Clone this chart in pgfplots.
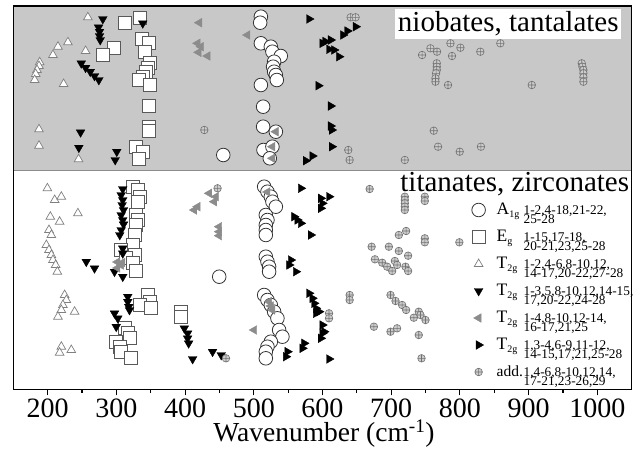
\documentclass[border=0pt]{standalone}
\usepackage{fontspec}
\setmainfont{Liberation Serif}
\usepackage{pgfplots}
\pgfplotsset{compat=1.18}
\definecolor{bggray}{RGB}{200,200,200}
\newcommand{\lent}[5][17.5]{\makebox[27pt][l]{\fontsize{#1}{18}\selectfont #2\raisebox{-3pt}{\fontsize{10}{10}\selectfont #3}}{\fontsize{13.3}{9.5}\selectfont\vtop{\baselineskip=9.5pt\lineskiplimit=-20pt\lineskip=0pt\hbox{#4}\hbox{#5}}}}
\begin{document}
\begin{tikzpicture}
\begin{axis}[
  scale only axis, width=618.4pt, height=383.3pt,
  xmin=150, xmax=1050, ymin=61.7, ymax=445,
  axis on top, clip=false,
  axis line style={line width=1.2pt},
  xtick={200,300,...,1000}, minor x tick num=1,
  xtick pos=bottom, ytick=\empty,
  tick align=outside, major tick length=6pt, minor tick length=3.5pt,
  tick style={line width=1.1pt, black},
  tick label style={font=\fontsize{28}{30}\selectfont},
  /pgf/number format/assume math mode=true,
  /pgf/number format/1000 sep={},
  xlabel={Wavenumber (cm\textsuperscript{-1})},
  xlabel style={font=\fontsize{27.5}{30}\selectfont, at={(axis description cs:0.5024,-0.1367)}, anchor=base},
  legend cell align=left,
  legend style={draw=none, fill=none, inner sep=0pt, outer sep=0pt,
    at={(axis cs:815.6,249.7)}, anchor=north west, row sep=4.0pt, column sep=10pt,
    nodes={inner sep=0pt, text height=12pt, text depth=10pt}},
  legend image code/.code={\path[draw=none, fill=none] (0pt,-10pt) rectangle (16pt,12pt); \draw[#1] plot coordinates {(8pt,3.3pt)};},
]
\fill[bggray] (axis cs:150,280) rectangle (axis cs:1050,445);
\draw[black!45, line width=1.5pt] (axis cs:150,280.5) -- (axis cs:1050,280.5);

% A1g circles
\addplot[only marks, mark=*, mark size=6.8pt, mark options={fill=white, draw=black!80, line width=0.8pt}] coordinates {
(510.3,434.3)(509.3,428.3)(510.3,407.7)(524.8,404.3)(527.1,399.3)(539.3,395)(529.6,389.3)(528.1,384.3)(529.6,379.3)(532.1,376)(533.5,371)(510.3,366)(513.6,344.3)(513.6,324.3)(532.1,319.3)(514.1,301)(527.1,304.3)(523.3,292.7)(455.6,296)
(515.1,264.3)(519.9,259.3)(524.8,254.3)(527.1,249.3)(532.1,244.3)(517.5,236)(519.9,231)(517.5,226)(517.5,221)(517.5,216)(517.5,194.3)(519.9,189.3)(522.3,184.3)(522.3,179.3)(449.7,174.3)(515.1,156)(519.9,151)(524.8,146)(529.6,139.3)(534.4,132.7)(536.9,121)(541.7,114.3)(524.8,109.3)(519.9,104.3)(517.5,99.3)(517.5,92.7)
};
\addlegendentry{\lent{A}{1g}{1-2,4-18,21-22,}{25-28}}

% Eg squares
\addplot[only marks, mark=square*, mark size=6.5pt, mark options={fill=white, draw=black!65, line width=0.8pt}] coordinates {
(312.8,428.3)(334.6,432.7)(296.3,403.3)(280.3,396)(337.5,411.7)(346.7,408.3)(341.9,399.3)(348.1,387.7)(345.6,382.7)(343.3,379.3)(338.4,374.3)(332.6,371)(349.1,366)(347.1,345)(346.7,324.3)(346.7,320.3)(328.8,304.3)(338.4,299.3)(332.6,291.7)
(323.9,264.3)(331.1,261)(333.6,254.3)(331.1,249.3)(328.8,236)(331.1,231)(328.8,226)(326.3,216)(323.9,206)(307.0,201)(326.3,196)(314.3,192.7)(323.9,187.7)(328.8,180)(345.6,156)(348.1,149.3)(333.6,146)(350.6,142.7)(394.1,139.3)(394.1,134.3)(311.8,122.7)(316.6,117.7)(319.1,112.7)(299.8,109.3)(304.5,104.3)(307.0,99.3)(321.5,92.7)
};
\addlegendentry{\lent{E}{g}{1-15,17-18,}{20-21,23,25-28}}

% T2g open triangles
\addplot[only marks, mark=triangle*, mark size=5pt, mark options={fill=white, draw=black!50, line width=0.7pt}] coordinates {
(258.5,433.7)(229.5,408.7)(215.0,404.3)(207.7,396)(255.2,400)(188.4,388.7)(187.4,385)(184.5,381)(182.6,377)(181.1,371)(223.2,367)(187.4,321.7)(187.4,305.3)(245.0,291.7)
(199.6,262.7)(210.2,251)(219.9,254.3)(244.0,237.7)(203.9,234.3)(217.4,229.3)(201.9,221)(205.4,216)(198.1,206)(201.9,201)(205.4,196)(207.7,191)(211.6,186)(214.1,179.3)(224.7,156)(227.2,151)(222.2,146)(219.9,141)(215.0,134.3)(239.2,139.3)(219.9,104.3)(217.4,98.3)(234.4,101)
};
\addlegendentry{\lent{T}{2g}{1-2,4-6,8-10,12,}{14-17,20-22,27-28}}

% T2g black down triangles
\addplot[only marks, mark=triangle*, mark size=5pt, mark options={fill=black, draw=black, rotate=180}] coordinates {
(280.3,432)(274.1,423.7)(275.5,419.3)(275.5,415)(276.5,411)(338.4,427.7)(248.9,387.7)(255.2,383.3)(262.0,379.3)(268.2,375)(274.5,371)(247.9,318.7)(245.4,303.3)(300.6,299.3)(298.3,291)
(309.3,262)(307.0,256)(309.3,251)(308.4,246)(310.4,241)(307.0,236)(309.3,231)(310.4,226.7)(307.0,221)(305.0,216)(309.3,202.7)(309.3,197.7)(256.2,189.3)(268.2,182.7)(297.3,179.3)(309.3,174.3)(316.6,154.3)(316.6,149.3)(318.0,144.3)(319.1,141)(297.3,137.7)(302.1,132.7)(299.8,124.3)(398.9,122.7)(403.7,117.7)(403.7,112.7)(405.2,107.7)(440.0,99.3)(452.6,96)(411.0,92)
};
\addlegendentry{\lent{T}{2g}{1-3,5,8-10,12,14-15,}{17,20-22,24-28}}

% T2g gray left triangles
\addplot[only marks, mark=triangle*, mark size=5pt, mark options={fill=black!45, draw=black!45, rotate=90}] coordinates {
(420.7,428.3)(490.8,416)(418.2,407.7)(423.2,404.3)(419.7,398.7)(432.8,395)(532.1,319.3)(527.1,304.3)(527.1,292.7)
(435.2,257.7)(444.9,254.3)(442.5,249.3)(418.2,244.3)(413.4,241)(449.7,224.3)(449.7,219.3)(449.7,215.3)(301.6,189)(307.0,186)(301.6,183)(308.9,188.5)(500.6,121)(522.3,149.3)(524.8,145)(527.1,141)(519.9,259)
};
\addlegendentry{\lent{T}{2g}{1-4,8-10,12-14,}{16-17,21,25}}

% T2g black right triangles
\addplot[only marks, mark=triangle*, mark size=5pt, mark options={fill=black, draw=black, rotate=-90}] coordinates {
(580.4,432)(599.7,407.7)(604.0,409.5)(611.9,411)(593.9,365.3)(611.9,345)(611.9,325)(613.4,321)(613.4,304.3)(575.6,290.3)(585.2,295)(648.2,424.3)(636.0,420)(629.8,416)(609.5,401.7)(616.7,401)(624.0,394.3)
(568.4,262.7)(597.4,252.7)(599.7,247.7)(597.4,242.7)(609.5,254.3)(558.6,234.3)(563.4,231)(568.4,227.7)(582.9,216)(553.8,191)(551.4,186)(561.1,179.3)(580.4,157.7)(585.2,152.7)(587.7,147.7)(590.2,142.7)(590.2,137.7)(594.9,139.3)(548.9,99.3)(546.6,94.3)(573.2,107.7)(570.7,102.7)(599.7,117.7)(597.4,112.7)(599.7,126)(602.2,119.3)(609.5,92)
};
\addlegendentry{\lent{T}{2g}{1,3-4,6-9,11-12,}{14-15,17,21,25-28}}

% additional modes
\addplot[only marks, mark=oplus*, mark size=3.8pt, mark options={fill=black!20, draw=black!55, line width=0.6pt}] coordinates {
(428.0,321)(641.0,433.7)(648.2,433.7)(744.9,396)(757.1,402.7)(766.7,399.3)(786.2,407.7)(800.7,403.3)(788.5,395)(829.7,399.3)(858.8,407.7)(766.3,387.7)(766.3,384.3)(766.3,381)(765.3,377.7)(764.4,372.7)(764.4,369.3)(782.7,366)(904.6,366)(977.3,387.7)(978.3,384.3)(979.7,381)(979.7,377.7)(979.7,373.7)(979.7,369.3)(761.9,320.3)(768.2,304.3)(799.7,299.3)(830.6,304.3)(637.5,301)(639.5,291)(719.8,291)
(447.3,262.7)(459.5,92.7)(668.6,262)(719.8,254.3)(719.8,251)(719.8,247.7)(719.8,244.3)(719.8,241)(748.9,254.3)(748.9,250)(711.1,216)(721.7,220)(748.9,212.7)(748.9,208.7)(799.2,208.7)(671.5,204.3)(696.6,204.3)(711.1,200)(724.6,195.3)(676.3,191.7)(686.9,188.3)(694.1,184.3)(701.4,180)(705.3,190)(708.6,186)(720.8,184.3)(724.6,180)(639.5,156)(639.5,151)(699.0,156)(706.3,150)(715.9,146)(721.7,141)(740.1,139.3)(742.6,136)(732.9,133.3)(749.9,131)(609.5,137.7)(609.5,132.7)(674.8,124.3)(699.0,119.3)(708.6,122.7)(740.1,116)(744.1,92.7)
};
\addlegendentry{\lent[15.5]{add.}{}{1,4-6,8-10,12,14,}{17-21,23-26,29}}

\node[fill=white, inner sep=2.5pt, anchor=base east, font=\fontsize{29}{30}\selectfont] at (axis cs:1034.9,419.3) {niobates, tantalates};
\node[inner sep=0pt, anchor=base east, font=\fontsize{29}{30}\selectfont] at (axis cs:1046.5,260) {titanates, zirconates};
\end{axis}
\path (-13.3pt,-61.7pt) rectangle (627.7pt,389.3pt);
\end{tikzpicture}
\end{document}
